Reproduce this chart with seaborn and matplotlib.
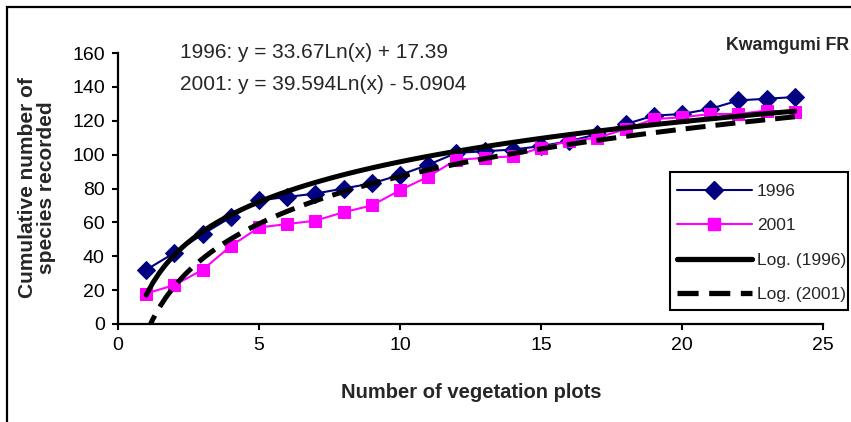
import numpy as np
import pandas as pd
import matplotlib
matplotlib.use("Agg")
import matplotlib.pyplot as plt
from matplotlib.patches import Rectangle
from matplotlib.lines import Line2D
import seaborn as sns

# ---- data ----
plots = list(range(1, 25))
species_1996 = [32, 42, 53, 63, 73, 75, 77, 80, 83, 88, 94, 101,
                102, 103, 105, 108, 112, 118, 123, 124, 127, 132, 133, 134]
species_2001 = [18, 23, 32, 46, 57, 59, 61, 66, 70, 79, 87, 97,
                98, 99, 104, 108, 110, 115, 121, 122, 124, 124, 126, 125]
series_labels = ["1996", "2001"]
trend_labels = ["Log. (1996)", "Log. (2001)"]
eq_texts = ["1996: y = 33.67Ln(x) + 17.39", "2001: y = 39.594Ln(x) - 5.0904"]
title_text = "Kwamgumi FR"
xlabel_text = "Number of vegetation plots"
ylabel_text = "Cumulative number of\nspecies recorded"
xticks = [0, 5, 10, 15, 20, 25]
yticks = [0, 20, 40, 60, 80, 100, 120, 140, 160]

df = pd.DataFrame({"plots": plots, "y1996": species_1996, "y2001": species_2001})

sns.set_theme(style="white")
plt.rcParams["font.family"] = ["Liberation Sans", "DejaVu Sans"]

W, H = 851, 422
fig = plt.figure(figsize=(W / 100, H / 100), dpi=100)
ax = fig.add_axes([118 / W, 1 - 324 / H, (823 - 118) / W, (324 - 53) / H])

navy = "#000080"
magenta = "#FF00FF"
dash = (0, (4.0, 2.0))

sns.lineplot(data=df, x="plots", y="y1996", ax=ax, color=navy, lw=1.5,
             marker="D", markersize=9, markeredgecolor=navy, zorder=3)
sns.lineplot(data=df, x="plots", y="y2001", ax=ax, color=magenta, lw=1.5,
             marker="s", markersize=9, markeredgecolor=magenta, zorder=3)

# logarithmic trendlines (y ~ a + b ln x), fitted by seaborn
sns.regplot(data=df, x="plots", y="y1996", ax=ax, logx=True, ci=None,
            scatter=False, truncate=True,
            line_kws=dict(color="black", lw=3.6, zorder=4))
sns.regplot(data=df, x="plots", y="y2001", ax=ax, logx=True, ci=None,
            scatter=False, truncate=True,
            line_kws=dict(color="black", lw=3.6, ls=dash, zorder=4))

ax.set_xlim(0, 25)
ax.set_ylim(0, 160)
ax.set_xticks(xticks)
ax.set_yticks(yticks)
ax.set_xlabel("")
ax.set_ylabel("")
for s in ["top", "right"]:
    ax.spines[s].set_visible(False)
for s in ["left", "bottom"]:
    ax.spines[s].set_color("black")
    ax.spines[s].set_linewidth(1.6)
ax.tick_params(axis="both", direction="out", length=4.5, width=1.5,
               colors="black", labelsize=14, pad=5, left=True, bottom=True)
ax.grid(False)

# legend (frameless content + separate box, like the original's padding)
handles = [
    Line2D([], [], color=navy, lw=1.5, marker="D", markersize=9),
    Line2D([], [], color=magenta, lw=1.5, marker="s", markersize=9),
    Line2D([], [], color="black", lw=3.8),
    Line2D([], [], color="black", lw=3.8, ls=dash),
]
leg = fig.legend(handles, series_labels + trend_labels, loc="upper left",
                 bbox_to_anchor=(677 / W, 1 - 184 / H), bbox_transform=fig.transFigure,
                 fontsize=12.5, frameon=False, handlelength=4.3,
                 handletextpad=0.3, labelspacing=1.1, borderpad=0,
                 borderaxespad=0)
fig.patches.append(Rectangle((670 / W, 1 - 310 / H), (848 - 670) / W, (310 - 172) / H,
                             fill=True, facecolor="white", edgecolor="black", lw=1.5,
                             transform=fig.transFigure, zorder=5))
leg.set_zorder(6)

# texts
fig.text(180 / W, 1 - 53 / H, eq_texts[0], fontsize=15, ha="left", va="center")
fig.text(180 / W, 1 - 84 / H, eq_texts[1], fontsize=15, ha="left", va="center")
fig.text(849 / W, 1 - 45 / H, title_text, fontsize=12.8, fontweight="bold",
         ha="right", va="center")
fig.text(471 / W, 1 - 392 / H, xlabel_text, fontsize=14.5, fontweight="bold",
         ha="center", va="center")
fig.text(37 / W, 1 - 188 / H, ylabel_text, fontsize=15, fontweight="bold",
         ha="center", va="center", rotation=90, multialignment="center",
         linespacing=1.05)

# chart-area border (left & top visible)
fig.patches.append(Rectangle((7 / W, -0.2), 2.0, 1 - 7 / H + 0.2, fill=False,
                             edgecolor="black", lw=1.6, transform=fig.transFigure))

fig.savefig("out.png", dpi=100, facecolor="white")
